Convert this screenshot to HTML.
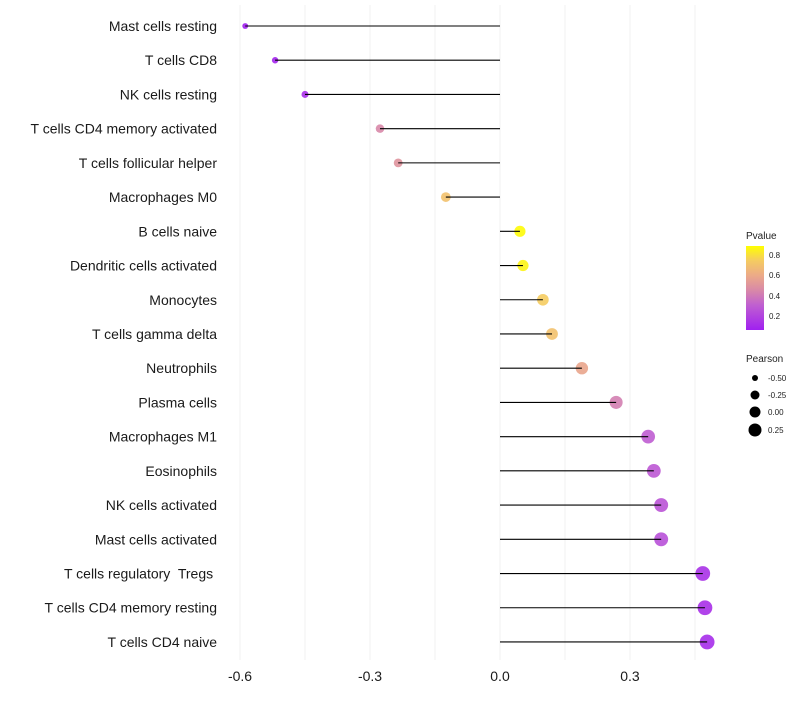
<!DOCTYPE html>
<html><head><meta charset="utf-8"><style>
body{margin:0;background:#fff;font-family:"Liberation Sans",sans-serif}
svg text{font-family:"Liberation Sans",sans-serif;white-space:pre}
</style></head><body>
<svg id="chart" width="800" height="700" xmlns="http://www.w3.org/2000/svg">
<defs><linearGradient id="pg" x1="0" y1="1" x2="0" y2="0">
<stop offset="0" stop-color="#a020f0"/><stop offset="0.3" stop-color="#c060d0"/><stop offset="0.47" stop-color="#d888a8"/><stop offset="0.65" stop-color="#ecaa88"/><stop offset="0.83" stop-color="#f5cc60"/><stop offset="1" stop-color="#ffff00"/>
</linearGradient></defs>
<g id="grid"></g><g id="points"></g><g id="marks"></g><g id="labels"></g>
<g>
<text x="746" y="239" font-size="10" fill="#222">Pvalue</text>
<rect x="746" y="246" width="18" height="84" fill="url(#pg)"/>
<text x="769" y="258" font-size="8" fill="#222">0.8</text>
<text x="769" y="278" font-size="8" fill="#222">0.6</text>
<text x="769" y="299" font-size="8" fill="#222">0.4</text>
<text x="769" y="319" font-size="8" fill="#222">0.2</text>
</g>
<g>
<text x="746" y="362" font-size="10" fill="#222">Pearson</text>
<circle cx="755" cy="378" r="3" fill="#000"/><text x="768" y="381" font-size="8" fill="#222">-0.50</text>
<circle cx="755" cy="395" r="4.5" fill="#000"/><text x="768" y="398" font-size="8" fill="#222">-0.25</text>
<circle cx="755" cy="412" r="5.5" fill="#000"/><text x="768" y="415" font-size="8" fill="#222">0.00</text>
<circle cx="755" cy="430" r="6.5" fill="#000"/><text x="768" y="433" font-size="8" fill="#222">0.25</text>
</g>
</svg>
<script>
const categories=["Mast cells resting","T cells CD8","NK cells resting","T cells CD4 memory activated","T cells follicular helper","Macrophages M0","B cells naive","Dendritic cells activated","Monocytes","T cells gamma delta","Neutrophils","Plasma cells","Macrophages M1","Eosinophils","NK cells activated","Mast cells activated","T cells regulatory  Tregs ","T cells CD4 memory resting","T cells CD4 naive"];
const pearson=[-0.588,-0.519,-0.45,-0.277,-0.235,-0.125,0.046,0.053,0.099,0.12,0.189,0.268,0.342,0.355,0.372,0.372,0.468,0.473,0.478];
const pvalues=[0.06,0.08,0.12,0.45,0.5,0.7,0.88,0.86,0.75,0.7,0.58,0.42,0.3,0.28,0.26,0.25,0.13,0.12,0.11];
const ticks=[-0.6,-0.3,0.0,0.3];
const tickLabels=["-0.6","-0.3","0.0","0.3"];
const gridVals=[-0.6,-0.45,-0.3,-0.15,0,0.15,0.3,0.45];
const NS="http://www.w3.org/2000/svg";
const x=v=>500+v*433.3;
const y=i=>26+i*34.22;
const r=v=>5.4+4.2*v;
const stops=[[0.06,[160,32,240]],[0.31,[192,96,208]],[0.45,[216,136,168]],[0.6,[236,170,136]],[0.75,[245,204,96]],[0.89,[255,255,0]]];
function col(p){p=Math.max(0.06,Math.min(0.89,p));for(let k=0;k<stops.length-1;k++){const[a,ca]=stops[k],[b,cb]=stops[k+1];if(p<=b){const t=(p-a)/(b-a);return "rgb("+ca.map((c,j)=>Math.round(c+(cb[j]-c)*t)).join(",")+")";}}return "rgb(255,255,0)";}
function mk(tag,attrs,parent){const e=document.createElementNS(NS,tag);for(const k in attrs)e.setAttribute(k,attrs[k]);document.getElementById(parent).appendChild(e);return e;}
gridVals.forEach(g=>{const l=mk("line",{x1:x(g),x2:x(g),y1:5,y2:660,stroke:"#f0f0f0","stroke-width":1},"grid");

});
categories.forEach((c,i)=>{
const p=mk("circle",{cx:x(pearson[i]),cy:y(i),r:r(pearson[i]),fill:col(pvalues[i]),"fill-opacity":0.9},"points");


const l=mk("line",{x1:x(0),x2:x(pearson[i]),y1:y(i),y2:y(i),stroke:"#000","stroke-width":1.1},"marks");


const t=mk("text",{x:217,y:y(i)+5,"text-anchor":"end","font-size":14,fill:"#1a1a1a"},"labels");
t.textContent=c;


});
ticks.forEach((v,i)=>{const t=mk("text",{x:x(v),y:681,"text-anchor":"middle","font-size":14,fill:"#1a1a1a"},"labels");
t.textContent=tickLabels[i];

});
</script>
</body></html>
